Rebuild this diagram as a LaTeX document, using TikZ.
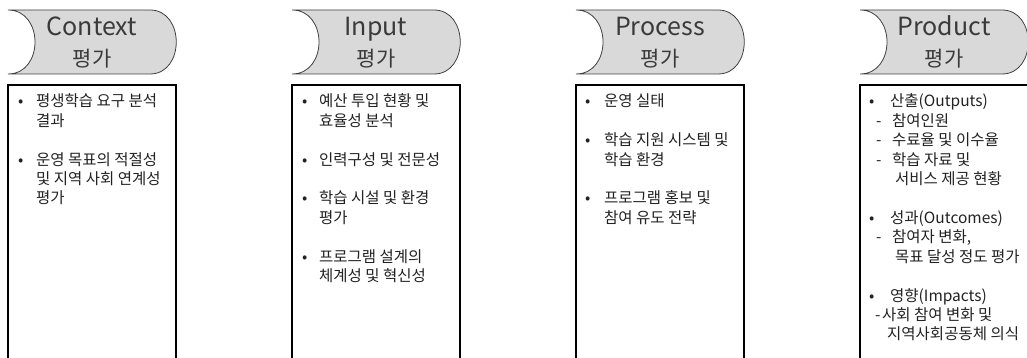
\documentclass[tikz,border=0pt]{standalone}
\usepackage{fontspec}
\setmainfont{Noto Sans CJK KR}
\definecolor{hdrfill}{HTML}{D9D9D9}
\definecolor{hdrline}{HTML}{404040}
\definecolor{hdrtxt}{HTML}{3A3A3A}
\definecolor{bodytxt}{HTML}{222222}
\tikzset{
  hdr/.style={fill=hdrfill, draw=hdrline, line width=0.8pt},
  frame/.style={draw=black, line width=1.2pt},
  htitle/.style={anchor=base, inner sep=0pt, text=hdrtxt, font=\fontsize{25}{25}\selectfont},
  hsub/.style={anchor=base, inner sep=0pt, text=hdrtxt, font=\fontsize{21}{21}\selectfont},
  body/.style={anchor=base west, inner sep=0pt, text=bodytxt, font=\fontsize{15.5}{15.5}\selectfont},
}
\newcommand\hdrshape{%
  \path[hdr] (0,10) -- (142,10) .. controls (177,10) and (177,74) .. (142,74)
    -- (0,74) .. controls (36,74) and (36,10) .. (0,10) -- cycle;
  \path[frame] (0,362) -- (0,85) -- (168,85) -- (168,362);
}
\begin{document}
\begin{tikzpicture}[x=1pt,y=-1pt]
\useasboundingbox (0,0) rectangle (1027,358);
% ---- Context
\begin{scope}[xshift=8pt]
  \hdrshape
  \node[htitle] (ct1) at (84,36) {Context};
  \node[hsub] (ct2) at (84,66.5) {평가};
  \node[body] (cb1) at (10,{107+19.4*0}) {•};
  \node[body] (c1) at (28,{107+19.4*0}) {평생학습 요구 분석};
  \node[body] (c2) at (28,{107+19.4*1}) {결과};
  \node[body] (cb2) at (10,{107+19.4*3}) {•};
  \node[body] (c3) at (28,{107+19.4*3}) {운영 목표의 적절성};
  \node[body] (c4) at (28,{107+19.4*4}) {및 지역 사회 연계성};
  \node[body] (c5) at (28,{107+19.4*5}) {평가};
\end{scope}
% ---- Input
\begin{scope}[xshift=292pt]
  \hdrshape
  \node[htitle] (it1) at (84,36) {Input};
  \node[hsub] (it2) at (84,66.5) {평가};
  \node[body] (ib1) at (10,{107+19.4*0}) {•};
  \node[body] (i1) at (27,{107+19.4*0}) {예산 투입 현황 및};
  \node[body] (i2) at (27,{107+19.4*1}) {효율성 분석};
  \node[body] (ib2) at (10,{107+19.4*3}) {•};
  \node[body] (i3) at (27,{107+19.4*3}) {인력구성 및 전문성};
  \node[body] (ib3) at (10,{107+19.4*5}) {•};
  \node[body] (i4) at (27,{107+19.4*5}) {학습 시설 및 환경};
  \node[body] (i5) at (27,{107+19.4*6}) {평가};
  \node[body] (ib4) at (10,{107+19.4*8}) {•};
  \node[body] (i6) at (27,{107+19.4*8}) {프로그램 설계의};
  \node[body] (i7) at (27,{107+19.4*9}) {체계성 및 혁신성};
\end{scope}
% ---- Process
\begin{scope}[xshift=576pt]
  \hdrshape
  \node[htitle] (pt1) at (84,36) {Process};
  \node[hsub] (pt2) at (84,66.5) {평가};
  \node[body] (pb1) at (9,{107+19.4*0}) {•};
  \node[body] (p1) at (28,{107+19.4*0}) {운영 실태};
  \node[body] (pb2) at (9,{107+19.4*2}) {•};
  \node[body] (p2) at (28,{107+19.4*2}) {학습 지원 시스템 및};
  \node[body] (p3) at (28,{107+19.4*3}) {학습 환경};
  \node[body] (pb3) at (9,{107+19.4*5}) {•};
  \node[body] (p4) at (28,{107+19.4*5}) {프로그램 홍보 및};
  \node[body] (p5) at (28,{107+19.4*6}) {참여 유도 전략};
\end{scope}
% ---- Product
\begin{scope}[xshift=860pt]
  \hdrshape
  \node[htitle] (rt1) at (84,36) {Product};
  \node[hsub] (rt2) at (84,66.5) {평가};
  \node[body] (rb1) at (9,{107+19.4*0}) {•};
  \node[body] (r1) at (30,{107+19.4*0}) {산출(Outputs)};
  \node[body] (rd1) at (16,{107+19.4*1}) {-};
  \node[body] (r2) at (32,{107+19.4*1}) {참여인원};
  \node[body] (rd2) at (16,{107+19.4*2}) {-};
  \node[body] (r3) at (32,{107+19.4*2}) {수료율 및 이수율};
  \node[body] (rd3) at (16,{107+19.4*3}) {-};
  \node[body] (r4) at (32,{107+19.4*3}) {학습 자료 및};
  \node[body] (r5) at (35,{107+19.4*4}) {서비스 제공 현황};
  \node[body] (rb2) at (9,{107+19.4*6}) {•};
  \node[body] (r6) at (30,{107+19.4*6}) {성과(Outcomes)};
  \node[body] (rd4) at (16,{107+19.4*7}) {-};
  \node[body] (r7) at (32,{107+19.4*7}) {참여자 변화,};
  \node[body] (r8) at (35,{107+19.4*8}) {목표 달성 정도 평가};
  \node[body] (rb3) at (9,{107+19.4*10}) {•};
  \node[body] (r9) at (30,{107+19.4*10}) {영향(Impacts)};
  \node[body] (rd5) at (15,{107+19.4*11}) {-};
  \node[body] (r10) at (22,{107+19.4*11}) {사회 참여 변화 및};
  \node[body] (r11) at (27,{107+19.4*12}) {지역사회공동체 의식};
\end{scope}
\end{tikzpicture}
\end{document}
